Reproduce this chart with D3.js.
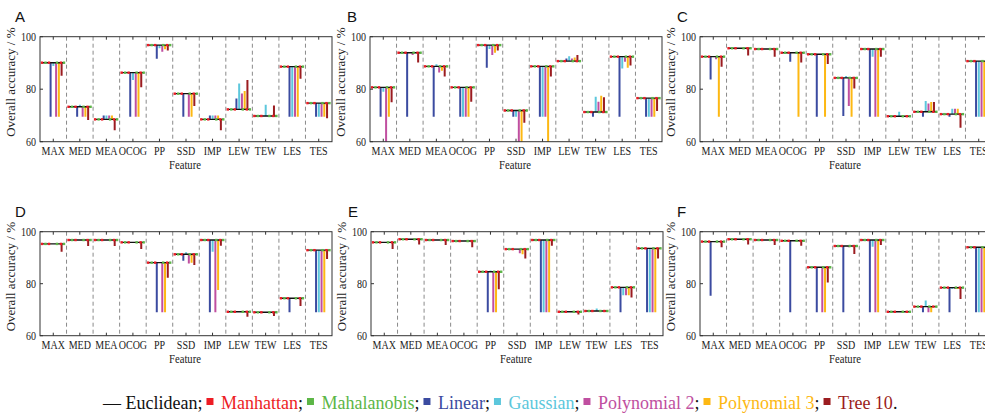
<!DOCTYPE html>
<html>
<head>
<meta charset="utf-8">
<script src="https://cdn.jsdelivr.net/npm/d3@7"></script>
<style>
  body { margin: 0; background: #fff; }
  svg { display: block; }
  .serif { font-family: 'Liberation Serif', 'DejaVu Serif', 'Times New Roman', Times, serif; }
  .sans { font-family: 'Liberation Sans', Arial, sans-serif; }
</style>
</head>
<body>
<div id="chart"></div>
<script>
const width = 985
const height = 414

/* Categories */
const features = ['MAX', 'MED', 'MEA', 'OCOG', 'PP', 'SSD', 'IMP', 'LEW', 'TEW', 'LES', 'TES']
const methods = ['Linear', 'Gaussian', 'Polynomial 2', 'Polynomial 3', 'Tree 10']
const yTicks = [60, 80, 100]

/* Overall accuracy per panel: row 0 = Euclidean, then Linear, Gaussian, Poly 2, Poly 3, Tree 10 */
const accA = [
    [90.1, 73.3, 68.5, 86.3, 96.8, 78.3, 68.5, 72.3, 69.8, 88.6, 74.7],
    [69.5, 69.5, 70.0, 69.5, 91.6, 69.5, 70.0, 76.5, 69.8, 69.5, 69.5],
    [88.8, 74.1, 70.0, 83.5, 95.6, 78.3, 70.0, 82.2, 74.1, 69.5, 69.5],
    [69.5, 69.5, 70.0, 69.5, 94.3, 69.5, 70.0, 78.4, 69.8, 69.5, 69.5],
    [69.5, 69.5, 70.0, 69.5, 95.2, 69.5, 70.0, 79.3, 69.8, 69.5, 69.5],
    [85.1, 68.3, 64.4, 80.7, 94.7, 73.6, 64.4, 83.5, 73.8, 84.0, 68.9]
]
const accB = [
    [80.7, 93.9, 88.7, 80.7, 96.8, 71.9, 88.7, 90.7, 71.3, 92.4, 76.6],
    [69.5, 69.5, 69.5, 69.5, 88.2, 69.5, 69.5, 91.7, 69.5, 69.5, 69.5],
    [79.0, 93.9, 89.5, 69.5, 95.3, 69.5, 69.5, 92.6, 77.1, 87.9, 69.5],
    [58.0, 93.0, 86.4, 69.5, 93.0, 58.0, 69.5, 91.7, 75.2, 90.5, 69.5],
    [69.5, 93.9, 87.0, 69.5, 93.9, 58.0, 58.0, 92.1, 77.5, 88.2, 69.5],
    [75.0, 90.2, 84.8, 75.2, 94.7, 67.2, 84.8, 93.0, 76.9, 89.0, 71.7]
]
const accC = [
    [92.4, 95.6, 95.3, 93.9, 93.3, 84.3, 95.3, 69.7, 71.4, 70.5, 90.7],
    [83.7, 95.6, 95.3, 90.5, 69.5, 69.8, 69.5, 69.7, 69.5, 69.5, 69.5],
    [92.4, 95.6, 95.3, 93.9, 93.3, 85.0, 92.4, 71.4, 75.5, 72.6, 69.5],
    [91.4, 95.6, 95.3, 93.9, 93.3, 73.6, 69.5, 69.7, 74.6, 72.6, 69.5],
    [69.5, 95.6, 95.3, 69.5, 69.5, 69.5, 69.5, 69.7, 75.1, 72.6, 69.5],
    [88.6, 92.8, 92.4, 90.2, 89.6, 80.3, 92.4, 69.7, 75.1, 65.3, 88.0]
]
const accD = [
    [95.3, 96.8, 96.8, 95.9, 88.1, 91.3, 96.8, 69.2, 69.0, 74.4, 92.9],
    [95.3, 96.8, 96.8, 95.9, 69.0, 88.8, 69.0, 69.2, 69.0, 69.0, 69.0],
    [95.3, 96.8, 96.8, 95.9, 88.1, 92.1, 92.3, 69.2, 69.0, 74.4, 69.0],
    [95.3, 96.8, 96.8, 95.9, 69.0, 87.8, 69.0, 69.2, 69.0, 74.4, 69.0],
    [95.3, 96.8, 96.8, 95.9, 69.0, 88.1, 77.6, 69.2, 69.0, 74.4, 69.0],
    [92.3, 94.5, 94.5, 93.3, 82.3, 87.2, 94.6, 67.3, 67.6, 71.4, 89.5]
]
const accE = [
    [95.9, 97.1, 96.8, 96.4, 84.6, 93.3, 96.8, 69.2, 69.5, 78.6, 93.6],
    [95.9, 97.1, 96.8, 96.4, 69.0, 93.3, 69.0, 69.2, 69.5, 69.0, 69.0],
    [95.9, 97.1, 96.8, 96.4, 85.1, 93.3, 69.0, 69.2, 70.5, 75.6, 69.0],
    [95.9, 97.1, 96.8, 96.4, 69.0, 91.7, 69.0, 69.2, 69.5, 75.6, 69.0],
    [95.9, 97.1, 96.8, 96.4, 69.0, 91.3, 69.0, 69.2, 69.5, 75.6, 69.0],
    [93.3, 95.1, 94.9, 94.0, 77.9, 89.7, 94.6, 68.2, 69.5, 74.7, 89.7]
]
const accF = [
    [96.2, 97.1, 96.8, 96.5, 86.3, 94.5, 96.8, 69.2, 71.2, 78.5, 94.0],
    [75.4, 97.1, 96.8, 69.0, 69.0, 69.0, 69.0, 69.2, 69.0, 69.0, 69.0],
    [96.2, 97.1, 96.8, 96.5, 86.3, 94.5, 94.2, 69.2, 73.5, 78.0, 69.0],
    [96.2, 97.1, 96.8, 96.5, 69.0, 94.0, 69.0, 69.2, 69.0, 78.0, 69.0],
    [96.2, 97.1, 96.8, 96.5, 69.0, 94.5, 69.0, 69.2, 69.0, 78.0, 69.0],
    [94.0, 95.1, 94.9, 94.6, 80.5, 91.4, 94.9, 69.2, 71.2, 74.1, 94.0]
]

const panels = [
    { id: 'A', data: accA, x: 40, row: 0 },
    { id: 'B', data: accB, x: 370, row: 0 },
    { id: 'C', data: accC, x: 700, row: 0 },
    { id: 'D', data: accD, x: 40, row: 1 },
    { id: 'E', data: accE, x: 371, row: 1 },
    { id: 'F', data: accF, x: 700, row: 1 }
]
const rows = [{ top: 36.7, bottom: 141.7 }, { top: 231.7, bottom: 335.7 }]
const plotW = 292

/* Legend entries */
const legendNames = ['Manhattan', 'Mahalanobis', 'Linear', 'Gaussian', 'Polynomial 2', 'Polynomial 3', 'Tree 10']
const legendColors = ['#ed1c24', '#5cb646', '#3b4ba0', '#5cc7dc', '#c04fa0', '#fdb813', '#9b1c20']
const methodColor = d3.scaleOrdinal().domain(methods).range(legendColors.slice(2))

const svg = d3.select('#chart').append('svg').attr('width', width).attr('height', height)

/* the reference text is squeezed horizontally */
function squeeze(sel, k) {
    sel.each(function () {
        const w = this.getComputedTextLength()
        d3.select(this).attr('textLength', w * k).attr('lengthAdjust', 'spacingAndGlyphs')
    })
}

panels.forEach(p => {
    const r = rows[p.row]
    const x = d3.scaleBand().domain(features).range([p.x, p.x + plotW])
    const y = d3.scaleLinear().domain([60, 100]).range([r.bottom, r.top])
    const bw = x.bandwidth()
    const g = svg.append('g').attr('class', 'panel')

    g.append('clipPath').attr('id', 'clip' + p.id)
        .append('rect').attr('x', p.x).attr('y', r.top).attr('width', plotW).attr('height', r.bottom - r.top)

    /* separators */
    g.selectAll('line.sep')
        .data(features.slice(1))
        .join('line')
        .attr('class', 'sep')
        .attr('x1', d => x(d)).attr('x2', d => x(d))
        .attr('y1', r.top).attr('y2', r.bottom)
        .attr('stroke', '#8a8a8a').attr('stroke-width', 1).attr('stroke-dasharray', '4,3')

    const marks = g.append('g').attr('clip-path', `url(#clip${p.id})`)

    /* vertical lines for the kernel / tree methods */
    methods.forEach((m, mi) => {
        marks.selectAll(null)
            .data(features)
            .join('line')
            .attr('x1', d => x(d) + 10.6 + mi * 2.75)
            .attr('x2', d => x(d) + 10.6 + mi * 2.75)
            .attr('y1', (d, i) => y(p.data[0][i]))
            .attr('y2', (d, i) => y(p.data[mi + 1][i]))
            .attr('stroke', methodColor(m))
            .attr('stroke-width', 2)
    })

    /* Euclidean reference line */
    marks.selectAll('line.eu')
        .data(features)
        .join('line')
        .attr('class', 'eu')
        .attr('x1', d => x(d) + 1.5).attr('x2', d => x(d) + bw - 2)
        .attr('y1', (d, i) => y(p.data[0][i])).attr('y2', (d, i) => y(p.data[0][i]))
        .attr('stroke', '#111').attr('stroke-width', 1.4)

    /* Manhattan / Mahalanobis markers sitting on the same line */
    const dots = [[2, 0], [5.5, 1], [9, 0], [17, 1], [21, 0], [24, 1]]
    dots.forEach(([off, c]) => {
        marks.selectAll(null)
            .data(features)
            .join('rect')
            .attr('x', d => x(d) + off - 1.2)
            .attr('y', (d, i) => y(p.data[0][i]) - 1.2)
            .attr('width', 2.4).attr('height', 2.4)
            .attr('fill', legendColors[c])
    })

    /* frame */
    g.append('rect')
        .attr('x', p.x).attr('y', r.top).attr('width', plotW).attr('height', r.bottom - r.top)
        .attr('fill', 'none').attr('stroke', '#333').attr('stroke-width', 1)

    /* inward ticks */
    g.selectAll('line.xt')
        .data(features)
        .join('line')
        .attr('class', 'xt')
        .attr('x1', d => x(d) + bw / 2).attr('x2', d => x(d) + bw / 2)
        .attr('y1', r.bottom).attr('y2', r.bottom - 3)
        .attr('stroke', '#333')
    g.selectAll('line.xt2')
        .data(features)
        .join('line')
        .attr('class', 'xt2')
        .attr('x1', d => x(d) + bw / 2).attr('x2', d => x(d) + bw / 2)
        .attr('y1', r.top).attr('y2', r.top + 3)
        .attr('stroke', '#333')
    g.selectAll('line.yt')
        .data(yTicks)
        .join('line')
        .attr('class', 'yt')
        .attr('x1', p.x).attr('x2', p.x + 3)
        .attr('y1', d => y(d)).attr('y2', d => y(d))
        .attr('stroke', '#333')

    /* tick labels */
    const xl = g.selectAll('text.xl')
        .data(features)
        .join('text')
        .attr('class', 'xl serif')
        .attr('x', d => x(d) + bw / 2)
        .attr('y', r.bottom + 13.5)
        .attr('text-anchor', 'middle')
        .attr('font-size', 12.5).attr('fill', '#222')
        .text(d => d)
    squeeze(xl, 0.8)

    const yl = g.selectAll('text.yl')
        .data(yTicks)
        .join('text')
        .attr('class', 'yl serif')
        .attr('x', p.x - 4)
        .attr('y', d => y(d) + 4.2)
        .attr('text-anchor', 'end')
        .attr('font-size', 12.5).attr('fill', '#222')
        .text(d => d)
    squeeze(yl, 0.8)

    const fl = g.append('text')
        .attr('class', 'serif')
        .attr('x', p.x + plotW / 2 - 1)
        .attr('y', r.bottom + 27)
        .attr('text-anchor', 'middle')
        .attr('font-size', 13).attr('fill', '#222')
        .text('Feature')
    squeeze(fl, 0.82)

    const cy = (r.top + r.bottom) / 2 - 7
    g.append('text')
        .attr('class', 'serif')
        .attr('transform', `translate(${[p.x - 25, cy]}) rotate(-90)`)
        .attr('text-anchor', 'middle')
        .attr('font-size', 13).attr('fill', '#222')
        .text('Overall accuracy / %')

    /* panel letter */
    g.append('text')
        .attr('class', 'sans')
        .attr('x', p.x - 25 + (p.x > 40 ? 2 : 0))
        .attr('y', r.top - 15)
        .attr('font-size', 15)
        .attr('fill', '#111')
        .text(p.id)
})

/* Legend */
const legend = svg.append('g').attr('class', 'legend')
const ly = 409
let lx = 103
legend.append('text')
    .attr('class', 'serif')
    .attr('x', lx).attr('y', ly)
    .attr('font-size', 18).attr('fill', '#111')
    .text('\u2014 Euclidean;')
    .each(function () { lx += this.getComputedTextLength() })

legendNames.forEach((name, i) => {
    lx += 4
    legend.append('rect')
        .attr('x', lx).attr('y', ly - 11).attr('width', 7).attr('height', 7)
        .attr('fill', legendColors[i])
    lx += 14.5
    const t = legend.append('text')
        .attr('class', 'serif')
        .attr('x', lx).attr('y', ly)
        .attr('font-size', 18)
    t.append('tspan').attr('fill', legendColors[i]).text(name)
    t.append('tspan').attr('fill', '#111').text(i === legendNames.length - 1 ? '.' : ';')
    lx += t.node().getComputedTextLength()
})
</script>
</body>
</html>
